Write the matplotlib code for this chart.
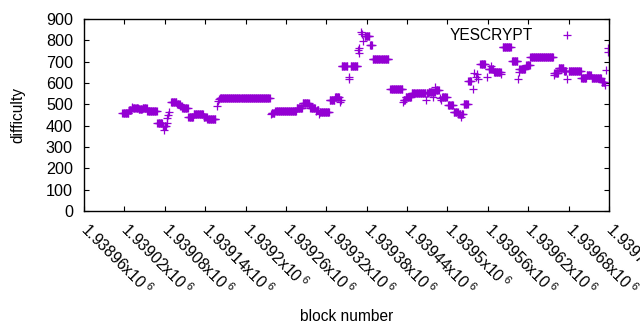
import numpy as np
import matplotlib
matplotlib.use("Agg")
import matplotlib.pyplot as plt

plt.rcParams['font.family'] = ['Liberation Sans', 'DejaVu Sans']
plt.rcParams['mathtext.fontset'] = 'custom'
plt.rcParams['mathtext.rm'] = 'Liberation Sans'
plt.rcParams['font.size'] = 11.2

# ---- data ----
BASE_BLOCK = 1938960
# runs of consecutive blocks with the same difficulty: start offset, end offset, value
run_start = [56, 58, 67, 71, 72, 81, 87, 94, 109, 117, 119, 120, 123, 124, 125, 127, 129,
             130, 138, 143, 146, 155, 163, 178, 183, 197, 199, 200, 202, 278, 279, 284,
             316, 325, 335, 336, 344, 346, 349, 350, 365, 373, 380, 381, 382, 383, 393,
             394, 396, 407, 408, 409, 412, 413, 415, 417, 425, 429, 455, 474, 475, 478,
             487, 508, 509, 512, 519, 520, 522, 523, 529, 530, 532, 541, 549, 556, 560,
             561, 564, 571, 578, 580, 582, 584, 586, 589, 599, 601, 604, 605, 609, 620,
             622, 636, 645, 646, 647, 657, 663, 698, 699, 705, 713, 718, 720, 739, 747,
             754, 769, 774, 776, 778, 779]
run_end = [56, 66, 70, 71, 80, 86, 93, 108, 116, 118, 119, 122, 123, 124, 125, 127, 129,
           137, 142, 145, 154, 162, 177, 182, 195, 197, 199, 200, 276, 278, 283, 315,
           324, 334, 335, 343, 344, 348, 349, 364, 372, 379, 380, 381, 382, 391, 393,
           394, 406, 407, 408, 409, 412, 413, 415, 424, 428, 452, 473, 474, 477, 486,
           507, 508, 511, 518, 519, 521, 522, 527, 529, 530, 539, 548, 555, 559, 560,
           563, 570, 575, 578, 580, 582, 584, 586, 596, 599, 603, 604, 608, 619, 620,
           634, 644, 645, 646, 655, 662, 697, 698, 704, 712, 716, 718, 738, 746, 753,
           768, 773, 774, 776, 778, 779]
run_value = [458, 460, 473, 489, 482, 478, 481, 469, 411, 398, 380, 398, 411, 434, 450, 466, 512,
             512, 500, 492, 481, 442, 453, 442, 431, 494, 517, 525, 531, 453, 458, 469,
             481, 508, 500, 481, 468, 475, 455, 463, 518, 534, 522, 513, 520, 682, 621,
             626, 679, 755, 742, 762, 840, 828, 795, 820, 778, 711, 570, 512, 520, 533,
             551, 520, 551, 559, 536, 559, 583, 565, 528, 520, 536, 497, 462, 453, 440,
             453, 500, 609, 570, 645, 630, 640, 619, 687, 628, 664, 680, 664, 653, 642,
             767, 703, 619, 652, 664, 686, 720, 637, 645, 669, 658, 619, 656, 625, 637,
             622, 606, 591, 661, 763, 747]

x_tick_values = [1938960 + 60 * i for i in range(14)]
y_tick_values = list(range(0, 1000, 100))

blocks = np.concatenate([np.arange(s, e + 1) for s, e in zip(run_start, run_end)]) + BASE_BLOCK
difficulty = np.concatenate([np.full(e - s + 1, v) for s, e, v in zip(run_start, run_end, run_value)])

fig = plt.figure(figsize=(6.4, 3.3), dpi=100)
ax = fig.add_axes([84 / 640, 1 - 211 / 330, 525 / 640, 192 / 330])

ax.plot(blocks, difficulty, linestyle='none', marker='+', markersize=5.8,
        markeredgewidth=0.9, color='#9400D3', label='YESCRYPT')

ax.set_xlim(x_tick_values[0], x_tick_values[-1])
ax.set_ylim(0, 900)
ax.set_yticks(y_tick_values)
ax.set_xticks(x_tick_values)
ax.set_xticklabels([f"{v / 1e6:g}x10$^{{\\;6}}$" for v in x_tick_values],
                   rotation=-45, ha='left', va='center', rotation_mode='anchor')

ax.tick_params(axis='both', which='both', direction='in', length=3.5, width=0.8,
               top=True, right=True, labelsize=11.6, colors='black')
ax.tick_params(axis='x', labelsize=11.3, pad=11)
ax.tick_params(axis='y', pad=8)
for sp in ax.spines.values():
    sp.set_linewidth(1.0)

ax.set_ylabel('difficulty')
ax.yaxis.set_label_coords(-0.112, 0.5)
ax.set_xlabel('block number')
ax.xaxis.set_label_coords(0.5, -0.51)

ax.legend(loc='upper right', bbox_to_anchor=(0.968, 1.0), markerfirst=False, frameon=False,
          handlelength=2.0, handletextpad=1.2, borderaxespad=0.2)

fig.savefig('out.png', dpi=100)
